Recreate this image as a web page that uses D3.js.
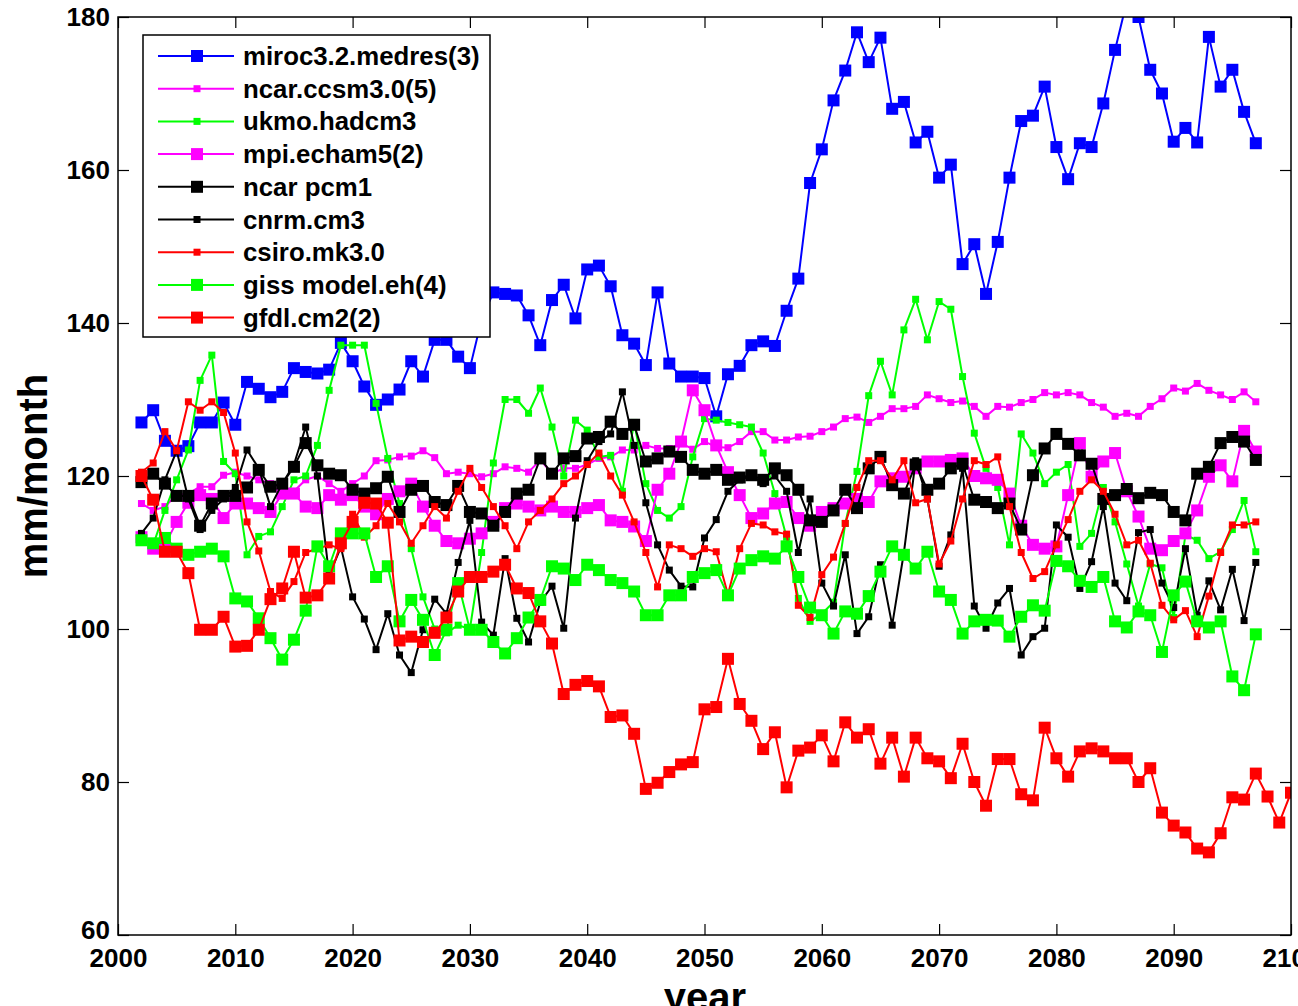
<!DOCTYPE html>
<html>
<head>
<meta charset="utf-8">
<script src="https://cdn.jsdelivr.net/npm/d3@7"></script>
<style>
  html, body { margin: 0; padding: 0; background: #fff; overflow: hidden; }
  svg { display: block; }
  text { font-family: "Liberation Sans", Arial, Helvetica, sans-serif; font-weight: bold; fill: #000; }
</style>
</head>
<body>
<svg id="chart" width="1298" height="1006"></svg>
<script>
// Annual precipitation projections (mm/month), 2002 onward
const years = d3.range(2002, 2098);
const gfdlYears = d3.range(2002, 2101);

const miroc = [
  127.0, 128.6, 124.6, 123.3, 123.9, 127.0, 127.0, 129.6, 126.7, 132.3,
  131.4, 130.3, 131.0, 134.1, 133.6, 133.4, 133.9, 137.4, 135.0, 131.7,
  129.3, 130.0, 131.3, 135.0, 133.0, 137.8, 137.8, 135.6, 134.1, 140.5,
  144.0, 143.8, 143.6, 141.0, 137.1, 143.0, 145.0, 140.6, 147.0, 147.5,
  144.8, 138.4, 137.3, 134.5, 144.0, 134.7, 133.0, 133.0, 132.8, 127.8,
  133.3, 134.4, 137.1, 137.6, 137.0, 141.6, 145.8, 158.3, 162.7, 169.1,
  173.0, 178.0, 174.1, 177.3, 168.0, 168.9, 163.6, 165.0, 159.0, 160.7,
  147.7, 150.3, 143.8, 150.6, 159.0, 166.4, 167.1, 170.9, 163.0, 158.8,
  163.5, 163.0, 168.7, 175.7, 182.0, 180.0, 173.1, 170.0, 163.7, 165.5,
  163.6, 177.4, 170.9, 173.1, 167.6, 163.5
];
const ccsm3 = [
  116.4, 115.5, 116.0, 117.5, 117.7, 118.6, 118.6, 120.1, 120.5, 120.0,
  119.5, 119.0, 118.5, 118.0, 119.5, 120.0, 119.0, 118.0, 119.0, 120.0,
  122.0, 122.1, 122.5, 122.6, 123.3, 122.4, 120.3, 120.5, 120.3, 119.9,
  120.3, 121.2, 121.0, 120.5, 122.1, 120.3, 121.0, 121.0, 121.5, 122.3,
  122.5, 123.4, 123.4, 124.0, 123.6, 123.6, 124.3, 123.5, 124.5, 123.8,
  123.7, 124.5, 125.8, 125.8, 124.7, 124.7, 125.1, 125.2, 125.8, 126.4,
  127.5, 127.7, 127.0, 127.8, 128.8, 128.8, 129.1, 130.6, 130.1, 129.6,
  129.8, 129.1, 127.8, 129.1, 129.0, 129.6, 130.0, 130.9, 130.6, 130.9,
  130.6, 129.6, 129.0, 127.8, 128.2, 127.8, 129.1, 130.1, 131.5, 131.1,
  132.1, 131.2, 130.6, 130.0, 131.0, 129.7
];
const ukmo = [
  112.0, 111.0, 115.5, 119.5, 123.4, 132.5, 135.8, 121.9, 120.3, 109.7,
  112.1, 112.7, 116.0, 119.5, 120.0, 124.0, 131.2, 137.1, 137.1, 137.1,
  129.5, 122.3, 116.4, 110.5, 104.2, 100.0, 99.5, 100.5, 100.0, 110.0,
  121.7, 130.0, 130.0, 128.2, 131.5, 126.4, 120.0, 127.3, 126.0, 122.5,
  122.7, 118.0, 127.0, 119.0, 115.5, 114.5, 116.0, 122.5, 127.5, 127.3,
  127.0, 126.7, 126.4, 123.0, 117.7, 112.0, 104.0, 101.0, 102.0, 103.5,
  113.8, 120.6, 130.5, 135.0, 130.6, 139.1, 143.1, 137.8, 142.8, 141.8,
  133.0, 125.6, 121.0, 118.5, 111.0, 125.5, 123.0, 119.0, 120.5, 121.5,
  110.8, 112.5, 118.5, 114.0, 108.5, 103.0, 108.5, 108.0, 101.5, 112.3,
  111.6, 109.2, 110.1, 113.0, 116.8, 110.1
];
const mpi = [
  112.0, 110.5, 111.0, 114.0, 116.5, 117.5, 117.0, 114.5, 116.4, 116.4,
  115.8, 115.3, 117.7, 117.7, 116.0, 115.8, 117.5, 116.9, 117.5, 116.0,
  115.0, 117.0, 118.0, 119.0, 116.0, 113.5, 111.5, 111.2, 111.8, 112.5,
  114.0, 115.8, 116.4, 116.0, 115.5, 116.0, 115.3, 115.3, 115.8, 116.2,
  114.2, 114.0, 113.4, 111.5, 118.2, 120.3, 124.5, 131.2, 128.6, 124.0,
  120.5, 117.5, 114.5, 115.1, 116.4, 116.6, 114.5, 113.5, 115.3, 115.8,
  116.4, 117.0, 116.6, 119.3, 119.7, 119.9, 121.0, 121.9, 121.9, 122.1,
  122.3, 120.0, 119.7, 119.5, 117.7, 113.5, 111.0, 110.5, 110.8, 117.5,
  124.3, 119.9, 121.9, 123.0, 118.0, 114.7, 110.5, 110.3, 111.5, 112.5,
  115.5, 119.9, 121.4, 119.3, 125.9, 123.2
];
const pcm1 = [
  119.2, 120.3, 119.0, 117.4, 117.4, 113.5, 116.4, 117.4, 117.4, 118.5,
  120.8, 118.6, 119.0, 121.2, 124.3, 121.4, 120.3, 120.1, 118.2, 117.7,
  118.4, 119.9, 115.3, 118.2, 118.7, 116.6, 116.2, 118.7, 115.3, 115.1,
  113.5, 115.3, 117.7, 118.2, 122.3, 120.3, 122.3, 122.6, 124.9, 125.1,
  127.1, 125.5, 126.7, 121.9, 122.3, 123.2, 122.5, 120.8, 120.3, 120.8,
  119.5, 119.8, 120.1, 119.5, 121.0, 120.1, 118.2, 114.2, 114.0, 115.5,
  118.2, 115.8, 121.0, 122.5, 118.8, 117.7, 121.5, 118.2, 119.0, 121.0,
  121.6, 116.9, 116.6, 115.8, 116.4, 113.0, 120.1, 123.6, 125.5, 124.2,
  122.7, 121.6, 117.0, 117.5, 118.3, 117.1, 117.8, 117.5, 115.3, 114.2,
  120.3, 121.2, 124.3, 125.1, 124.5, 122.1
];
const cnrm = [
  112.5, 114.5, 119.5, 123.3, 117.0, 113.0, 115.5, 117.0, 118.5, 123.4,
  121.0, 116.0, 119.0, 121.5, 126.4, 120.0, 107.0, 110.7, 104.2, 101.3,
  97.3, 102.0, 96.6, 94.3, 99.9, 103.9, 102.0, 108.7, 114.2, 100.9,
  99.2, 109.2, 101.4, 98.3, 103.5, 105.6, 100.1, 114.5, 122.0, 124.5,
  125.5, 131.0, 124.0, 116.5, 111.0, 107.7, 105.6, 105.5, 111.9, 114.3,
  118.0, 119.5, 120.0, 119.0, 120.0, 118.0, 110.0, 117.0, 106.0, 103.0,
  109.7, 99.4, 101.6, 108.4, 100.5, 110.0, 122.0, 117.0, 108.2, 112.3,
  121.0, 103.0, 100.1, 103.4, 105.3, 96.6, 99.0, 100.1, 113.6, 112.0,
  105.3, 108.8, 116.0, 106.0, 103.7, 112.6, 113.0, 106.0, 102.8, 110.5,
  101.8, 106.3, 102.5, 107.8, 101.1, 108.7
];
const csiro = [
  120.5, 121.7, 125.8, 123.3, 129.7, 128.6, 129.7, 128.3, 123.0, 114.0,
  110.2, 104.9, 104.0, 106.2, 110.0, 110.5, 111.0, 110.5, 115.0, 112.0,
  113.5, 116.4, 114.0, 111.2, 113.5, 116.0, 114.5, 118.0, 121.0, 118.5,
  116.0, 113.5, 110.5, 114.0, 115.5, 117.0, 119.0, 120.0, 121.5, 123.0,
  120.0, 117.5, 114.0, 110.0, 105.5, 111.0, 110.5, 109.5, 110.5, 110.1,
  104.5, 110.5, 113.8, 113.6, 112.7, 112.4, 103.1, 101.5, 107.1, 109.4,
  113.8, 118.5, 122.0, 122.0, 119.5, 122.0, 116.5, 117.0, 108.5, 111.5,
  117.0, 122.0, 121.5, 122.5, 116.0, 110.0, 106.6, 107.5, 111.0, 114.3,
  118.0, 119.5, 118.0, 115.0, 111.0, 111.6, 108.6, 103.1, 101.2, 102.4,
  99.0, 104.3, 110.0, 113.6, 113.6, 114.0
];
const giss = [
  111.6, 111.2, 111.9, 110.5, 109.7, 110.1, 110.5, 109.5, 104.0, 103.6,
  101.4, 98.8, 96.0, 98.6, 102.4, 110.8, 108.2, 112.5, 112.5, 112.5,
  106.8, 108.2, 101.0, 103.8, 101.2, 96.6, 99.9, 106.0, 99.9, 99.9,
  98.3, 96.8, 98.8, 101.5, 103.8, 108.2, 107.9, 106.4, 108.4, 107.7,
  106.4, 106.0, 104.9, 101.8, 101.8, 104.4, 104.4, 106.8, 107.3, 107.7,
  104.4, 107.9, 109.0, 109.5, 109.2, 110.8, 106.8, 102.8, 101.8, 99.4,
  102.3, 102.0, 104.3, 107.5, 110.8, 109.7, 107.9, 110.1, 104.9, 103.8,
  99.4, 101.0, 101.2, 101.1, 99.0, 101.6, 103.1, 102.4, 108.9, 108.2,
  106.3, 105.5, 106.8, 101.0, 100.2, 102.3, 101.8, 97.0, 104.4, 106.2,
  101.0, 100.2, 101.0, 93.8, 92.0, 99.3
];
const gfdl = [
  120.0, 116.9, 110.1, 110.1, 107.3, 99.9, 99.9, 101.6, 97.7, 97.8,
  99.9, 103.9, 105.3, 110.1, 104.1, 104.4, 106.6, 111.2, 114.0, 116.5,
  116.4, 113.9, 98.5, 99.0, 98.3, 99.5, 101.5, 104.9, 106.8, 106.8,
  107.5, 108.4, 105.3, 104.7, 101.0, 98.1, 91.5, 92.7, 93.2, 92.5,
  88.5, 88.7, 86.3, 79.1, 79.9, 81.3, 82.3, 82.6, 89.5, 89.8,
  96.1, 90.2, 88.0, 84.3, 86.5, 79.3, 84.1, 84.5, 86.1, 82.7,
  87.8, 85.8, 86.9, 82.4, 85.8, 80.7, 85.8, 83.1, 82.7, 80.5,
  85.0, 80.0, 76.9, 83.0, 83.0, 78.4, 77.6, 87.1, 83.1, 80.7,
  84.0, 84.4, 84.0, 83.1, 83.1, 80.0, 81.8, 76.0, 74.3, 73.4,
  71.3, 70.8, 73.3, 78.0, 77.7, 81.1, 78.1, 74.7, 78.6
];

const modelNames = [
  "miroc3.2.medres(3)", "ncar.ccsm3.0(5)", "ukmo.hadcm3", "mpi.echam5(2)",
  "ncar pcm1", "cnrm.cm3", "csiro.mk3.0", "giss model.eh(4)", "gfdl.cm2(2)"
];
const xTicks = d3.range(2000, 2101, 10);
const yTicks = d3.range(60, 181, 20);

// series table: values, years, colour and marker size (big / small)
const series = [
  { name: modelNames[0], years: years, values: miroc, color: "#0000ff", big: true },
  { name: modelNames[1], years: years, values: ccsm3, color: "#ff00ff", big: false },
  { name: modelNames[2], years: years, values: ukmo,  color: "#00ff00", big: false },
  { name: modelNames[3], years: years, values: mpi,   color: "#ff00ff", big: true },
  { name: modelNames[4], years: years, values: pcm1,  color: "#000000", big: true },
  { name: modelNames[5], years: years, values: cnrm,  color: "#000000", big: false },
  { name: modelNames[6], years: years, values: csiro, color: "#ff0000", big: false },
  { name: modelNames[7], years: years, values: giss,  color: "#00ff00", big: true },
  { name: modelNames[8], years: gfdlYears, values: gfdl, color: "#ff0000", big: true }
];

const BIG = 12, SMALL = 7, LW = 2;
const L = 118, R = 1291, T = 17, B = 935;

const svg = d3.select("#chart");
const x = d3.scaleLinear().domain([2000, 2100]).range([L, R]);
const y = d3.scaleLinear().domain([60, 180]).range([B, T]);

svg.append("defs").append("clipPath").attr("id", "plotclip")
  .append("rect").attr("x", L).attr("y", T).attr("width", R - L).attr("height", B - T);

// data lines and markers
const plot = svg.append("g").attr("clip-path", "url(#plotclip)");
const line = d3.line().x(d => x(d[0])).y(d => y(d[1]));

series.forEach(s => {
  const pts = s.years.map((yr, i) => [yr, s.values[i]]);
  const g = plot.append("g");
  g.append("path").datum(pts)
    .attr("d", line).attr("fill", "none")
    .attr("stroke", s.color).attr("stroke-width", LW).attr("stroke-linejoin", "round");
  const m = s.big ? BIG : SMALL;
  g.selectAll("rect").data(pts).join("rect")
    .attr("x", d => x(d[0]) - m / 2).attr("y", d => y(d[1]) - m / 2)
    .attr("width", m).attr("height", m).attr("fill", s.color);
});

// axes box with inward ticks on all four sides
const frame = svg.append("g");
const tickLen = 11;
frame.append("rect").attr("x", L).attr("y", T).attr("width", R - L).attr("height", B - T)
  .attr("fill", "none").attr("stroke", "#000").attr("stroke-width", 1.5);

const xb = svg.append("g").attr("transform", `translate(0,${B})`)
  .call(d3.axisBottom(x).tickValues(xTicks).tickFormat(d3.format("d")).tickSize(-tickLen));
const xt = svg.append("g").attr("transform", `translate(0,${T})`)
  .call(d3.axisTop(x).tickValues(xTicks).tickFormat("").tickSize(-tickLen));
const yl = svg.append("g").attr("transform", `translate(${L},0)`)
  .call(d3.axisLeft(y).tickValues(yTicks).tickSize(-tickLen).tickPadding(8));
const yr = svg.append("g").attr("transform", `translate(${R},0)`)
  .call(d3.axisRight(y).tickValues(yTicks).tickFormat("").tickSize(-tickLen));

[xb, xt, yl, yr].forEach(a => {
  a.select(".domain").remove();
  a.selectAll(".tick line").attr("stroke", "#000").attr("stroke-width", 1.2);
  a.selectAll(".tick text").style("font-size", "26px").style("font-weight", "bold")
    .style("font-family", '"Liberation Sans", Arial, sans-serif').attr("fill", "#000");
});
xb.selectAll(".tick text").attr("dy", "0.71em").attr("y", 14);
// the lowest y label sits just above the year labels
yl.selectAll(".tick text").filter(d => d === 60).attr("dy", "0.12em");

// axis titles
svg.append("text").attr("transform", "translate(47,476) rotate(-90)")
  .attr("text-anchor", "middle").style("font-size", "40px").text("mm/month");
svg.append("text").attr("x", 705).attr("y", 1011)
  .attr("text-anchor", "middle").style("font-size", "40px").text("year");

// legend
const lg = svg.append("g");
lg.append("rect").attr("x", 143).attr("y", 35).attr("width", 347).attr("height", 302)
  .attr("fill", "#fff").attr("stroke", "#000").attr("stroke-width", 1.5);
series.forEach((s, i) => {
  const cy = 56 + i * 32.7;
  lg.append("line").attr("x1", 158).attr("x2", 234).attr("y1", cy).attr("y2", cy)
    .attr("stroke", s.color).attr("stroke-width", LW);
  const m = s.big ? BIG : SMALL;
  lg.append("rect").attr("x", 197 - m / 2).attr("y", cy - m / 2).attr("width", m).attr("height", m)
    .attr("fill", s.color);
  lg.append("text").attr("x", 243).attr("y", cy + 9).style("font-size", "25.8px").text(s.name);
});
</script>
</body>
</html>
